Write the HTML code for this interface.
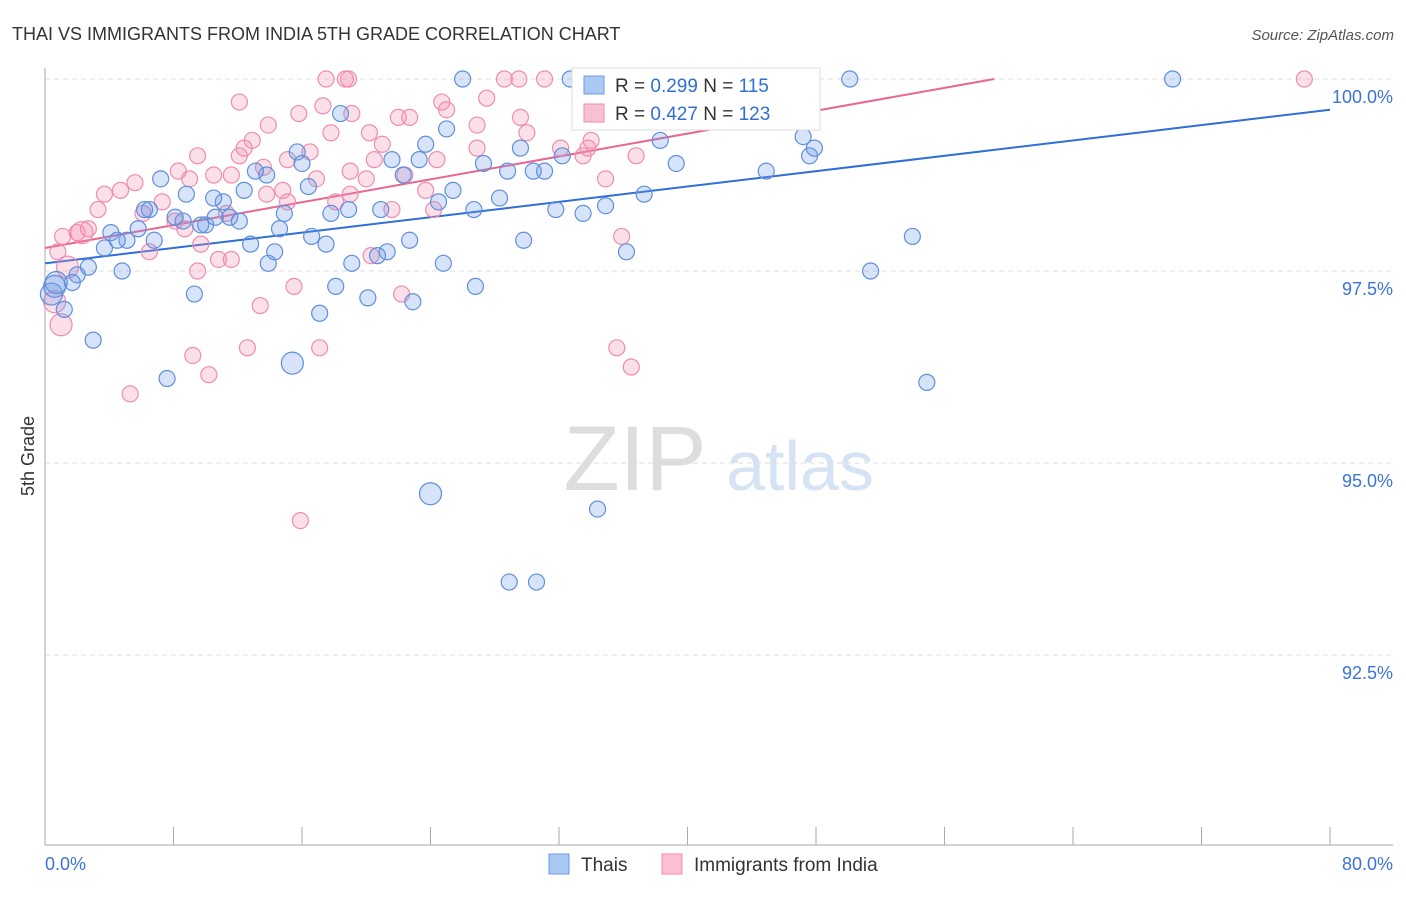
<!DOCTYPE html>
<html><head><meta charset="utf-8"><style>
body{margin:0;background:#fff;font-family:"Liberation Sans",sans-serif;}
svg text{font-family:"Liberation Sans",sans-serif;}
</style></head><body>
<svg id="c" width="1406" height="892">
<text x="12" y="40" font-size="18" fill="#333">THAI VS IMMIGRANTS FROM INDIA 5TH GRADE CORRELATION CHART</text>
<text x="1394" y="40" font-size="15" fill="#555" font-style="italic" text-anchor="end">Source: ZipAtlas.com</text>
<text x="34" y="456" font-size="18" fill="#333" transform="rotate(-90 34 456)" text-anchor="middle">5th Grade</text>
<g><text x="635" y="490" font-size="92" fill="#ddd" font-family="Liberation Serif" text-anchor="middle">ZIP</text><text x="800" y="490" font-size="70" fill="#d5e3f5" text-anchor="middle">atlas</text></g>
<g id="grid"></g><g id="axes"></g><g id="lines"></g><g id="pts"></g>
<g>
<rect x="572" y="68" width="248" height="62" fill="#fff" stroke="#ddd"/>
<rect x="584" y="76" width="20" height="18" fill="#a9c8f2" stroke="#6b9be0"/>
<text x="615" y="92" font-size="19" fill="#333">R = <tspan fill="#2f6fd6">0.299</tspan>   N = <tspan fill="#2f6fd6">115</tspan></text>
<rect x="584" y="104" width="20" height="18" fill="#f8c0d3" stroke="#f08cb0"/>
<text x="615" y="120" font-size="19" fill="#333">R = <tspan fill="#2f6fd6">0.427</tspan>   N = <tspan fill="#2f6fd6">123</tspan></text>
</g>
<g>
<rect x="549" y="854" width="20" height="20" fill="#a9c8f2" stroke="#6b9be0"/>
<text x="581" y="871" font-size="19" fill="#333">Thais</text>
<rect x="662" y="854" width="20" height="20" fill="#f8c0d3" stroke="#f08cb0"/>
<text x="694" y="871" font-size="19" fill="#333">Immigrants from India</text>
</g>
</svg>
<script>
const yTicks=[100,97.5,95,92.5];
const yTickLabels=["100.0%","97.5%","95.0%","92.5%"];
const xTickLabels=["0.0%","80.0%"];
const blueTrend=[[0,97.6],[80,99.6]];
const pinkTrend=[[0,97.8],[59.1,100]];
const blueX=[26.0,50.1,70.2,32.7,41.7,40.0,47.2,47.6,47.9,44.9,38.3,39.3,37.3,34.9,33.5,31.8,36.2,29.8,31.1,30.4,32.2,29.6,28.8,28.3,27.3,26.7,25.4,25.0,23.7,23.3,24.5,24.8,26.8,22.7,22.9,22.3,20.9,21.6,21.3,20.7,19.1,20.1,18.9,18.4,17.8,17.5,18.1,17.1,16.6,16.4,16.0,15.7,14.9,14.6,13.9,14.3,13.8,12.8,12.4,12.1,11.5,11.1,10.6,10.0,9.7,10.5,8.8,8.6,9.3,8.1,7.6,7.2,6.8,6.5,6.2,5.8,5.1,4.5,4.1,3.7,4.8,3.0,2.7,2.0,1.7,1.2,0.7,0.4,0.6,15.4,24.0,34.4,28.9,30.6,51.4,54.0,54.9,13.1];
const blueY=[100,100,100,100,100,100,99.25,99.0,99.1,98.8,99.2,98.9,98.5,98.35,98.25,98.3,97.75,97.9,98.8,98.8,99.0,99.1,98.8,98.45,98.9,98.3,98.55,99.35,99.15,98.95,98.4,97.6,97.3,97.9,97.1,98.75,98.3,98.95,97.75,97.7,97.6,97.15,98.3,99.55,98.25,97.85,97.3,96.95,97.95,98.6,98.9,99.05,98.25,98.05,97.6,97.75,98.75,97.85,98.55,98.15,98.2,98.4,98.2,98.1,98.1,98.45,98.5,98.15,97.2,98.2,96.1,98.7,97.9,98.3,98.3,98.05,97.9,97.9,98.0,97.8,97.5,96.6,97.55,97.45,97.35,97.0,97.35,97.2,97.3,96.3,94.6,94.4,93.45,93.45,97.5,97.95,96.05,98.8];
const pinkX=[17.5,18.9,18.7,28.6,29.5,31.1,78.4,33.3,27.5,24.7,25.0,22.0,22.7,19.1,17.3,15.8,12.1,13.9,12.9,12.4,17.8,20.2,21.0,20.5,19.0,16.5,15.1,13.6,13.8,12.1,11.6,10.5,9.5,9.0,8.3,7.3,5.6,4.7,3.7,3.3,2.7,2.0,1.1,0.8,2.3,1.4,1.0,0.6,5.3,6.5,6.1,8.1,8.7,9.7,9.5,9.2,10.2,10.8,11.6,11.3,12.6,13.4,15.5,17.1,15.9,14.8,15.1,16.9,18.1,19.0,20.0,20.3,22.2,21.6,22.4,23.7,24.2,24.4,26.9,26.9,29.6,30.0,32.1,33.5,33.8,34.9,35.9,35.6,36.5,36.8,34.0];
const pinkY=[100,100,100,100,100,100,100,99.7,99.75,99.7,99.6,99.5,99.5,99.55,99.65,99.55,99.7,99.4,99.2,99.1,99.3,99.3,99.15,98.95,98.8,99.05,98.95,98.85,98.5,99.0,98.75,98.75,99.0,98.7,98.8,98.4,98.65,98.55,98.5,98.3,98.05,98.0,97.95,97.75,98.0,97.55,96.8,97.1,95.9,97.75,98.25,98.15,98.05,97.85,97.5,96.4,96.15,97.65,97.65,98.25,96.5,97.05,97.3,96.5,94.25,98.55,98.4,98.7,98.4,98.5,98.7,97.7,97.2,98.3,98.75,98.55,98.3,98.95,99.1,99.4,99.5,99.3,99.1,99.0,99.1,98.7,97.95,96.5,96.25,99.0,99.2];
const bigBlue=[86,87,88,89,90];
const bigPink=[44,45,46,47];
const NS="http://www.w3.org/2000/svg";
const X0=45,X1=1330,Y100=79,PPY=76.8;
const sx=v=>X0+(X1-X0)*v/80;
const sy=v=>Y100+(100-v)*PPY;
function mk(t,a,p){const e=document.createElementNS(NS,t);for(const k in a)e.setAttribute(k,a[k]);p.appendChild(e);return e;}
const grid=document.getElementById('grid');
yTicks.forEach((t,i)=>{
 const l=mk('line',{x1:X0,x2:1393,y1:sy(t),y2:sy(t),stroke:'#ddd','stroke-dasharray':'5,4'},grid);
 
 
 const tx=mk('text',{x:1393,y:sy(t)+24,'font-size':18,fill:'#3b73d6','text-anchor':'end'},grid);
 tx.textContent=yTickLabels[i];
 
 
});
const ax=document.getElementById('axes');
mk('line',{x1:X0,x2:X0,y1:68,y2:845,stroke:'#aaa'},ax);
mk('line',{x1:X0,x2:1393,y1:845,y2:845,stroke:'#aaa'},ax);
for(let k=1;k<=10;k++){const x=sx(k*8);const t=mk('line',{x1:x,x2:x,y1:827,y2:845,stroke:'#aaa'},ax);
 
 }
const xl0=mk('text',{x:45,y:870,'font-size':18,fill:'#3b73d6'},ax);xl0.textContent=xTickLabels[0];


const xl1=mk('text',{x:1393,y:870,'font-size':18,fill:'#3b73d6','text-anchor':'end'},ax);xl1.textContent=xTickLabels[1];


const pts=document.getElementById('pts');
function series(xs,ys,big,fill,stroke,name){xs.forEach((x,i)=>{
 const c=mk('circle',{cx:sx(x),cy:sy(ys[i]),r:big.includes(i)?11:8,fill:fill,stroke:stroke,'stroke-width':1.2},pts);
 
 });}
series(pinkX,pinkY,bigPink,'rgba(244,143,177,0.28)','#f08cb0','india-point');
series(blueX,blueY,bigBlue,'rgba(110,155,230,0.28)','#5f8fdc','thais-point');
const ln=document.getElementById('lines');
const b=mk('line',{x1:sx(blueTrend[0][0]),y1:sy(blueTrend[0][1]),x2:sx(blueTrend[1][0]),y2:sy(blueTrend[1][1]),stroke:'#2f6fd6','stroke-width':2},ln);


const p=mk('line',{x1:sx(pinkTrend[0][0]),y1:sy(pinkTrend[0][1]),x2:sx(pinkTrend[1][0]),y2:sy(pinkTrend[1][1]),stroke:'#e8668f','stroke-width':2},ln);


</script>
</body></html>
